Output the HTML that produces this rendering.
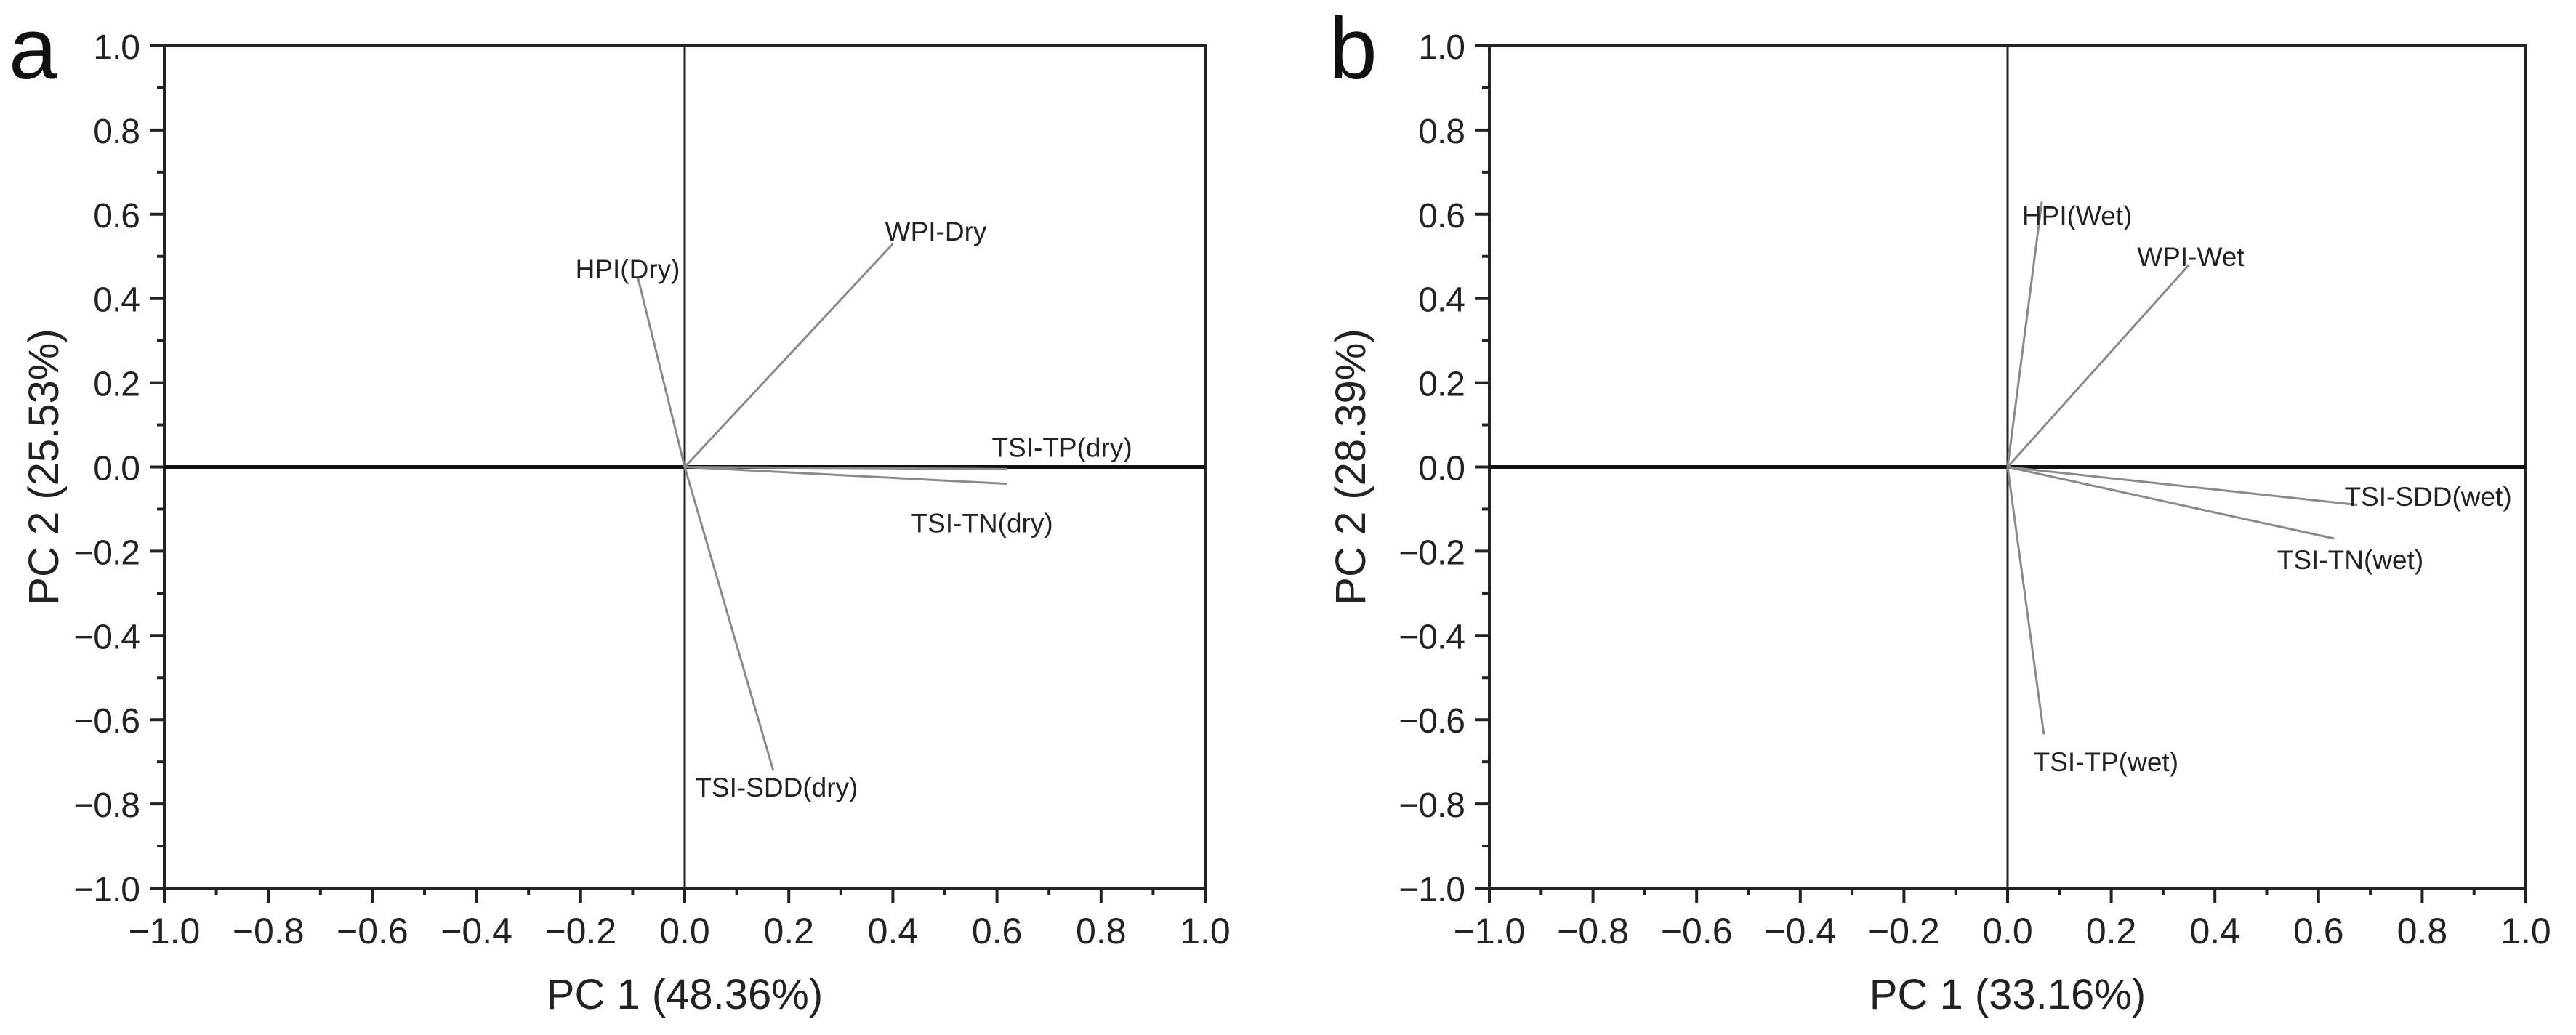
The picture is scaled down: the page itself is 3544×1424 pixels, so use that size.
<!DOCTYPE html>
<html><head><meta charset="utf-8"><style>
html,body{margin:0;padding:0;background:#fff}
svg{display:block;font-family:"Liberation Sans",sans-serif}
</style></head><body>
<svg id="fig" width="3544" height="1424" viewBox="0 0 3544 1424"></svg>
<script>
const ticks=[-1.0,-0.8,-0.6,-0.4,-0.2,0.0,0.2,0.4,0.6,0.8,1.0];
const tickLabels=["\u22121.0","\u22120.8","\u22120.6","\u22120.4","\u22120.2","0.0","0.2","0.4","0.6","0.8","1.0"];
const namesA=["HPI(Dry)","WPI-Dry","TSI-TP(dry)","TSI-TN(dry)","TSI-SDD(dry)"];
const xA=[-0.09,0.40,0.62,0.62,0.17];
const yA=[0.45,0.53,-0.005,-0.04,-0.72];
const lxA=[-0.21,0.385,0.59,0.435,0.02];
const lyA=[0.47,0.56,0.047,-0.133,-0.76];
const namesB=["HPI(Wet)","WPI-Wet","TSI-SDD(wet)","TSI-TN(wet)","TSI-TP(wet)"];
const xB=[0.066,0.35,0.675,0.63,0.07];
const yB=[0.63,0.48,-0.09,-0.17,-0.635];
const lxB=[0.028,0.25,0.65,0.52,0.05];
const lyB=[0.597,0.50,-0.07,-0.22,-0.70];
const svg=document.getElementById('fig');
const NS='http://www.w3.org/2000/svg';
function mk(tag,attrs,parent){const e=document.createElementNS(NS,tag);for(const k in attrs)e.setAttribute(k,attrs[k]);(parent||svg).appendChild(e);return e;}
function panel(p){
  const g=mk('g',{});
  
  
  const X=v=>p.cx+v*p.hw, Y=v=>p.cy-v*579.5;
  const L=X(-1),R=X(1),T=Y(1),B=Y(-1);
  for(let i=-10;i<=10;i++){const v=i/10;if(i%2===0)continue;
    const t1=mk('line',{x1:X(v),x2:X(v),y1:B,y2:B+10,stroke:'#222','stroke-width':4},g);
    
    const t2=mk('line',{x1:L-10,x2:L,y1:Y(v),y2:Y(v),stroke:'#222','stroke-width':4},g);
    }
  ticks.forEach((v,i)=>{
    const a=mk('line',{x1:X(v),x2:X(v),y1:B,y2:B+20,stroke:'#222','stroke-width':4},g);
    
    const b=mk('line',{x1:L-20,x2:L,y1:Y(v),y2:Y(v),stroke:'#222','stroke-width':4},g);
    
    const tx=mk('text',{x:X(v),y:B+76,'text-anchor':'middle','font-size':50,fill:'#222'},g);
    tx.textContent=tickLabels[i];
    
    const ty=mk('text',{x:L-34,y:Y(v)+18,'text-anchor':'end','font-size':48,'letter-spacing':-1,fill:'#222'},g);
    ty.textContent=tickLabels[i];
    
  });
  const fr=mk('rect',{x:L,y:T,width:R-L,height:B-T,fill:'none',stroke:'#222','stroke-width':4},g);
  
  const h=mk('line',{x1:L,x2:R,y1:Y(0),y2:Y(0),stroke:'#111','stroke-width':5},g);
  
  const vl=mk('line',{x1:X(0),x2:X(0),y1:T,y2:B,stroke:'#222','stroke-width':3},g);
  
  p.names.forEach((n,i)=>{
    const ln=mk('line',{x1:X(0),y1:Y(0),x2:X(p.xs[i]),y2:Y(p.ys[i]),stroke:'#8a8a8a','stroke-width':3},g);
    
    const t=mk('text',{x:X(p.lx[i]),y:Y(p.ly[i])+13,'font-size':37,fill:'#222'},g);
    t.textContent=n;
    
  });
  const xt=mk('text',{x:X(0),y:1388,'text-anchor':'middle','font-size':58,fill:'#222'},g);
  xt.textContent=p.xtitle;
  const yt=mk('text',{x:0,y:0,'text-anchor':'middle','font-size':58,fill:'#222',transform:`translate(${p.ytx},${p.cy}) rotate(-90)`},g);
  yt.textContent=p.ytitle;
  const lt=mk('text',{x:p.letterX,y:108,'font-size':120,fill:'#111'},g);
  lt.textContent=p.id;
}
panel({id:'a',cx:942,cy:642.5,hw:716,names:namesA,xs:xA,ys:yA,lx:lxA,ly:lyA,xtitle:'PC 1 (48.36%)',ytitle:'PC 2 (25.53%)',ytx:80,letterX:12});
panel({id:'b',cx:2762,cy:642.5,hw:713,names:namesB,xs:xB,ys:yB,lx:lxB,ly:lyB,xtitle:'PC 1 (33.16%)',ytitle:'PC 2 (28.39%)',ytx:1878,letterX:1828});
</script>
</body></html>
